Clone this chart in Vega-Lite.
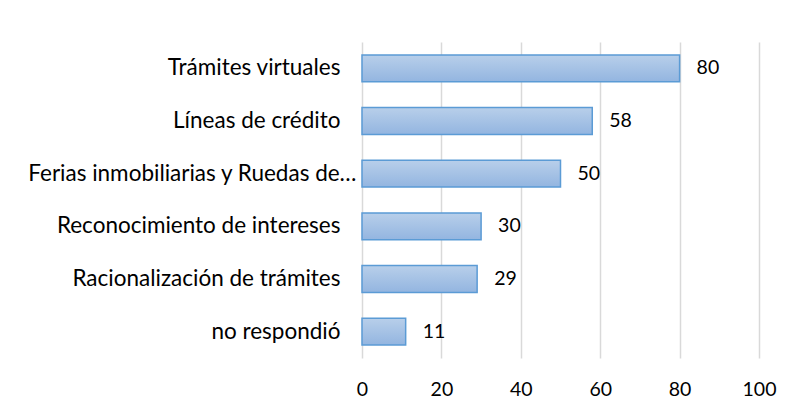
{
  "$schema": "https://vega.github.io/schema/vega-lite/v6.json",
  "autosize": "none",
  "padding": {"left": 362, "top": 42, "right": 37, "bottom": 57},
  "width": 397,
  "height": 316,
  "background": "white",
  "config": {"view": {"stroke": null}, "font": "Lato"},
  "data": {"values": [
    {"categoria": "Trámites virtuales", "valor": 80},
    {"categoria": "Líneas de crédito", "valor": 58},
    {"categoria": "Ferias inmobiliarias y Ruedas de…", "valor": 50},
    {"categoria": "Reconocimiento de intereses ", "valor": 30},
    {"categoria": "Racionalización de trámites", "valor": 29},
    {"categoria": "no respondió", "valor": 11}
  ]},
  "encoding": {
    "y": {"field": "categoria", "type": "nominal", "sort": null,
      "scale": {"paddingInner": 0.49, "paddingOuter": 0.245},
      "axis": {"title": null, "ticks": false, "domain": false, "labelFontSize": 22.5, "labelColor": "#000000",
        "labelPadding": {"condition": {"test": "indexof(datum.value, 'Ferias') == 0", "value": 6}, "value": 22},
        "labelLimit": 400, "labelFont": "Lato"}},
    "x": {"field": "valor", "type": "quantitative",
      "scale": {"domain": [0, 100]},
      "axis": {"title": null, "values": [0, 20, 40, 60, 80, 100], "ticks": false, "domain": false, "grid": true, "gridColor": "#d9d9d9", "gridWidth": 1.5, "labelFontSize": 19.5, "labelColor": "#000000", "labelPadding": 22, "labelFlush": false, "labelFont": "Lato"}}
  },
  "layer": [
    {"mark": {"type": "bar", "stroke": "#5b9bd5", "strokeWidth": 1.5,
      "color": {"gradient": "linear", "x1": 0, "y1": 0, "x2": 0, "y2": 1,
        "stops": [{"offset": 0, "color": "#b8cfea"}, {"offset": 1, "color": "#93b5e0"}]}}},
    {"mark": {"type": "text", "align": "left", "dx": 17, "fontSize": 19.5, "color": "#000000", "font": "Lato"},
      "encoding": {"text": {"field": "valor", "type": "quantitative"}}}
  ]
}
